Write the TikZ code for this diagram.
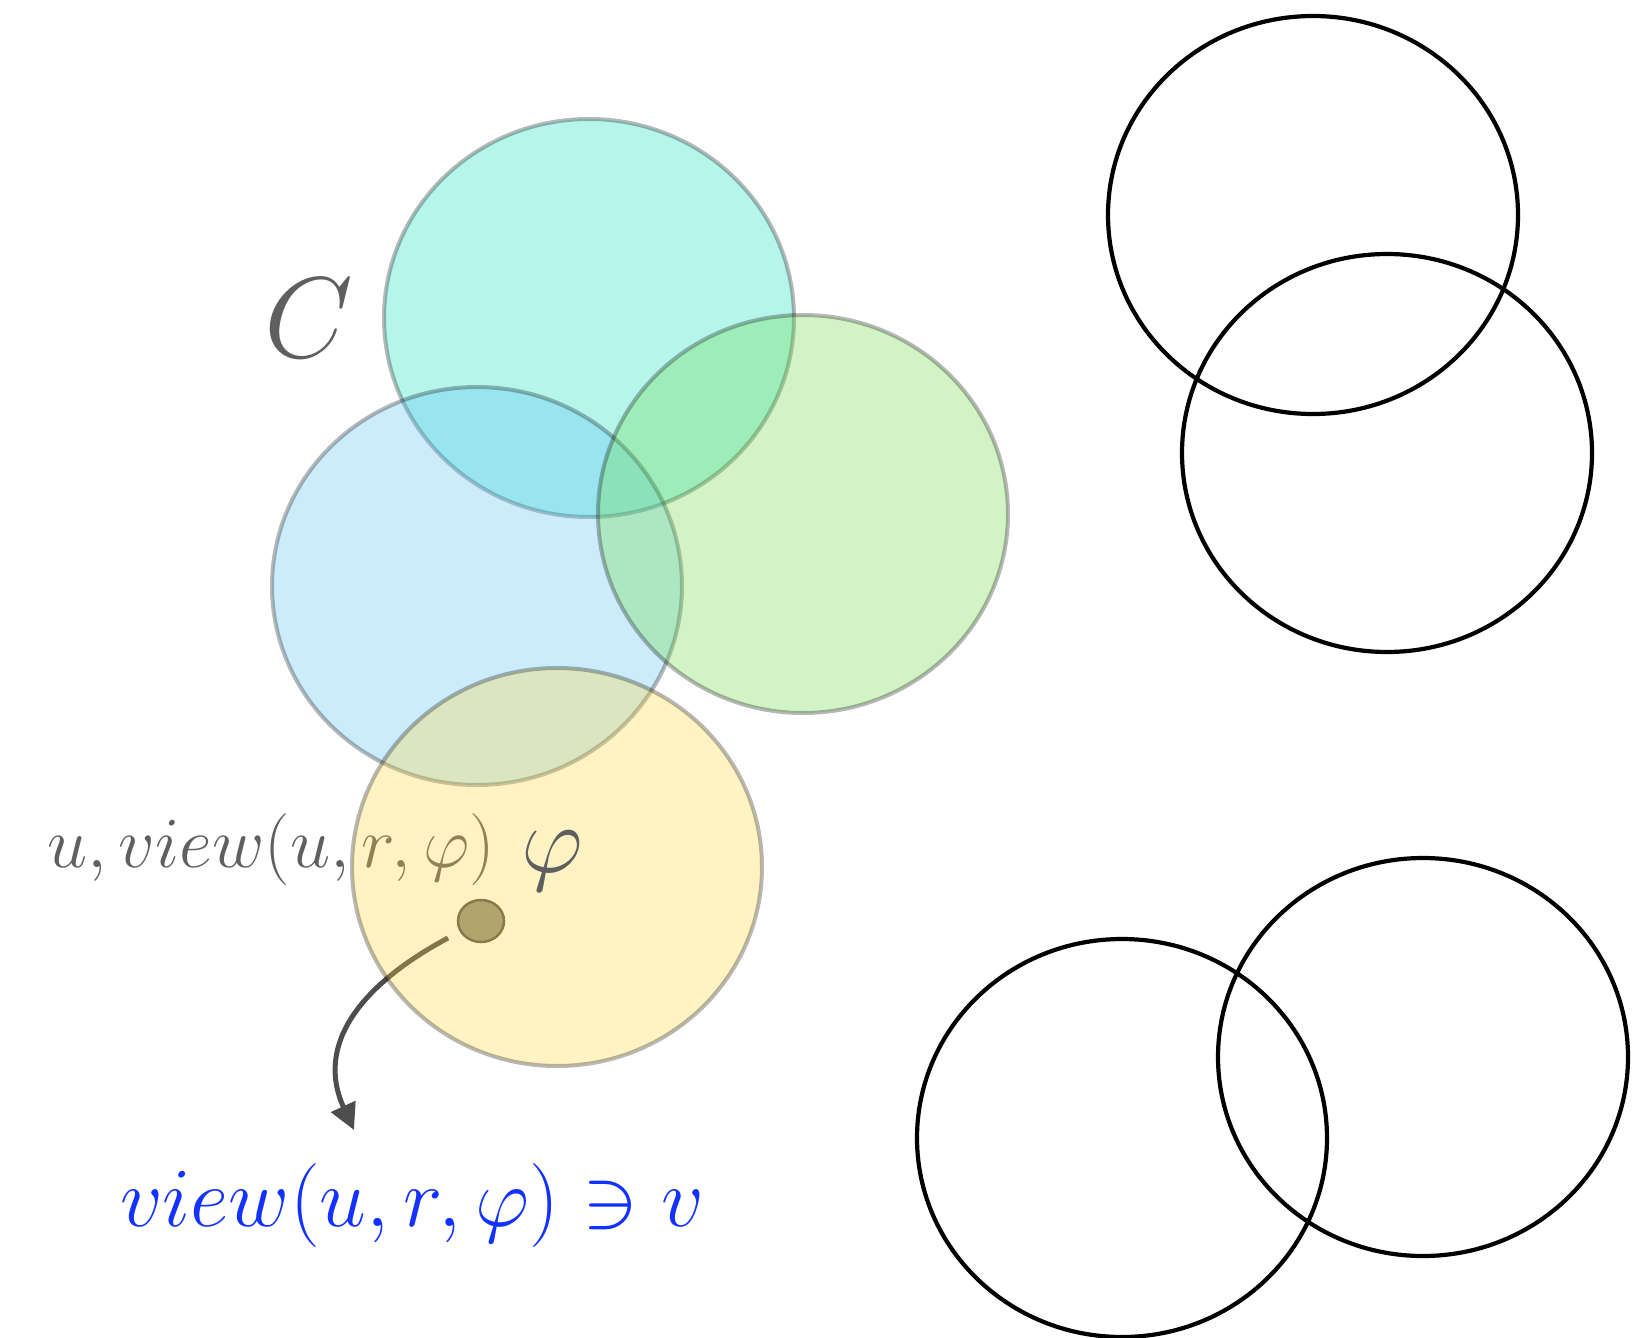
\RequirePackage{fix-cm}
\documentclass[tikz,border=0pt]{standalone}
\usepackage{fontspec}
\usetikzlibrary{arrows.meta,shapes.geometric}
\definecolor{cyanc}{RGB}{12,222,193}
\definecolor{bluec}{RGB}{85,193,246}
\definecolor{greenc}{RGB}{105,216,65}
\definecolor{yellowc}{RGB}{255,215,58}
\definecolor{txtgray}{RGB}{95,95,95}
\definecolor{arrgray}{RGB}{77,77,77}
\definecolor{dotfill}{RGB}{142,143,135}
\definecolor{dotdraw}{RGB}{88,82,78}
\definecolor{viewblue}{RGB}{20,50,255}
\tikzset{
  softdisc/.style={draw=black, draw opacity=0.28, line width=4pt, fill opacity=0.3},
  plaincircle/.style={draw=black, line width=4.2pt},
  lbl/.style={inner sep=0pt, anchor=base west},
}
\begin{document}
\begin{tikzpicture}[x=1pt,y=-1pt]
\useasboundingbox (0,0) rectangle (1646,1338);
% texts under the discs
\node[lbl, text=txtgray, font=\fontsize{115}{115}\selectfont] (C) at (264,357) {$C$};
\node[lbl, text=txtgray, font=\fontsize{72}{72}\selectfont] (uview) at (47,867)
  {$u, view(u, r, \varphi)$};
\node[lbl, text=viewblue, font=\fontsize{84}{84}\selectfont] (res) at (120,1226)
  {$view(u, r, \varphi) \ni v$};
% dot and arrow
\node[ellipse, inner sep=0pt, minimum width=46pt, minimum height=42pt, draw=dotdraw, fill=dotfill, line width=2.5pt] (dot) at (481,921) {};
\coordinate (as) at (448,938);
\coordinate (ae) at (354,1130);
\draw[arrgray, line width=5pt, -{Triangle[length=26pt,width=26pt]}]
  (as) .. controls (360,985) and (315,1045) .. (ae);
% translucent discs
\draw[softdisc, fill=cyanc]   (589,318)  ellipse [x radius=205, y radius=199];
\draw[softdisc, fill=bluec]   (477,586)  ellipse [x radius=205, y radius=199];
\draw[softdisc, fill=greenc]  (803,514)  ellipse [x radius=205, y radius=199];
\draw[softdisc, fill=yellowc] (557,867)  ellipse [x radius=205, y radius=199];
% label above the discs
\node[lbl, text=txtgray, font=\fontsize{96}{96}\selectfont] (phi) at (521,872) {$\varphi$};
% plain circles
\draw[plaincircle] (1313,215)  ellipse [x radius=205, y radius=199];
\draw[plaincircle] (1387,453)  ellipse [x radius=205, y radius=199];
\draw[plaincircle] (1122,1138) ellipse [x radius=205, y radius=199];
\draw[plaincircle] (1423,1057) ellipse [x radius=205, y radius=199];
\end{tikzpicture}
\end{document}
